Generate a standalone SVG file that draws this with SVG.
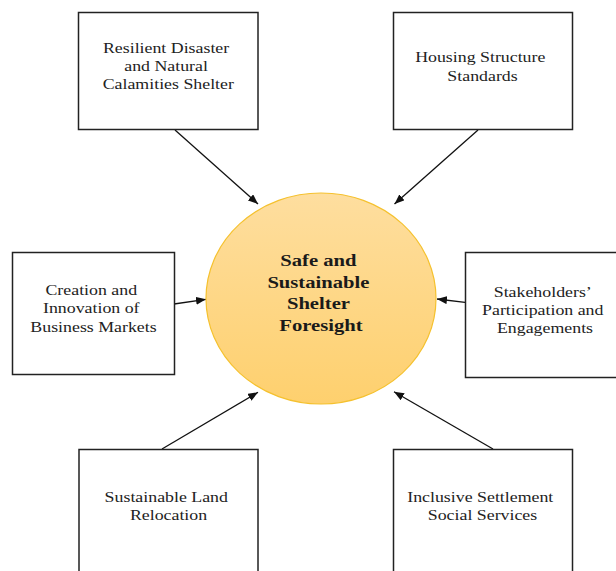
<svg xmlns="http://www.w3.org/2000/svg" width="616" height="571" viewBox="0 0 616 571">
  <style>
    .box { fill: #ffffff; stroke: #222222; stroke-width: 1.5; }
    .lbl { font-family: "Liberation Serif", "Times New Roman", serif; font-size: 15px; fill: #222222; text-anchor: middle; }
    .core { font-family: "Liberation Serif", "Times New Roman", serif; font-size: 17.5px; font-weight: bold; fill: #1a1a1a; text-anchor: middle; }
    .link { stroke: #111111; stroke-width: 1.3; fill: none; marker-end: url(#head); }
  </style>
  <defs>
    <linearGradient id="sun" x1="0" y1="0" x2="0" y2="1">
      <stop offset="0" stop-color="#FEDE9F"/>
      <stop offset="1" stop-color="#FED06E"/>
    </linearGradient>
    <marker id="head" markerUnits="userSpaceOnUse" markerWidth="10" markerHeight="8" refX="10" refY="4" orient="auto">
      <path d="M0,0 L10,4 L0,8 z" fill="#111111"/>
    </marker>
  </defs>

  <g id="connectors">
    <line class="link" x1="175" y1="130" x2="258" y2="204"/>
    <line class="link" x1="478" y1="130" x2="394.5" y2="204"/>
    <line class="link" x1="174" y1="304" x2="206" y2="299.3"/>
    <line class="link" x1="465" y1="302.3" x2="437" y2="299"/>
    <line class="link" x1="162" y1="449" x2="258" y2="392.3"/>
    <line class="link" x1="493" y1="449" x2="394" y2="391.8"/>
  </g>

  <g id="center">
    <ellipse cx="321" cy="298.5" rx="115" ry="105.5" fill="url(#sun)" stroke="#F5C12E" stroke-width="1.2"/>
    <text class="core" transform="translate(321 0) scale(1.18 1)">
      <tspan x="0" y="266.5">Safe and</tspan>
      <tspan x="0" y="288">Sustainable</tspan>
      <tspan x="0" y="309.5">Shelter</tspan>
      <tspan x="0" y="331">Foresight</tspan>
    </text>
  </g>

  <g id="resilient-shelter">
    <rect class="box" x="78.5" y="12.5" width="179.5" height="117"/>
    <text class="lbl" transform="translate(168.3 0) scale(1.19 1)">
      <tspan x="0" y="52.7">Resilient Disaster</tspan>
      <tspan x="0" y="71">and Natural</tspan>
      <tspan x="0" y="89.5">Calamities Shelter</tspan>
    </text>
  </g>

  <g id="housing-standards">
    <rect class="box" x="393.5" y="12.5" width="179" height="117"/>
    <text class="lbl" transform="translate(482.5 0) scale(1.19 1)">
      <tspan x="0" y="62.5">Housing Structure</tspan>
      <tspan x="0" y="81">Standards</tspan>
    </text>
  </g>

  <g id="business-markets">
    <rect class="box" x="12.5" y="252.5" width="162" height="122"/>
    <text class="lbl" transform="translate(93.5 0) scale(1.19 1)">
      <tspan x="0" y="295">Creation and</tspan>
      <tspan x="0" y="313.3">Innovation of</tspan>
      <tspan x="0" y="331.7">Business Markets</tspan>
    </text>
  </g>

  <g id="stakeholders">
    <rect class="box" x="465.5" y="252.5" width="162" height="125"/>
    <text class="lbl" transform="translate(545 0) scale(1.19 1)">
      <tspan x="0" y="297.3">Stakeholders’</tspan>
      <tspan x="0" y="315.5">Participation and</tspan>
      <tspan x="0" y="333.5">Engagements</tspan>
    </text>
  </g>

  <g id="land-relocation">
    <rect class="box" x="79" y="449.5" width="179" height="140"/>
    <text class="lbl" transform="translate(168.5 0) scale(1.19 1)">
      <tspan x="0" y="501.7">Sustainable Land</tspan>
      <tspan x="0" y="520">Relocation</tspan>
    </text>
  </g>

  <g id="social-services">
    <rect class="box" x="393.5" y="449.5" width="179" height="140"/>
    <text class="lbl" transform="translate(482.5 0) scale(1.19 1)">
      <tspan x="0" y="501.7">Inclusive Settlement</tspan>
      <tspan x="0" y="520">Social Services</tspan>
    </text>
  </g>
</svg>
